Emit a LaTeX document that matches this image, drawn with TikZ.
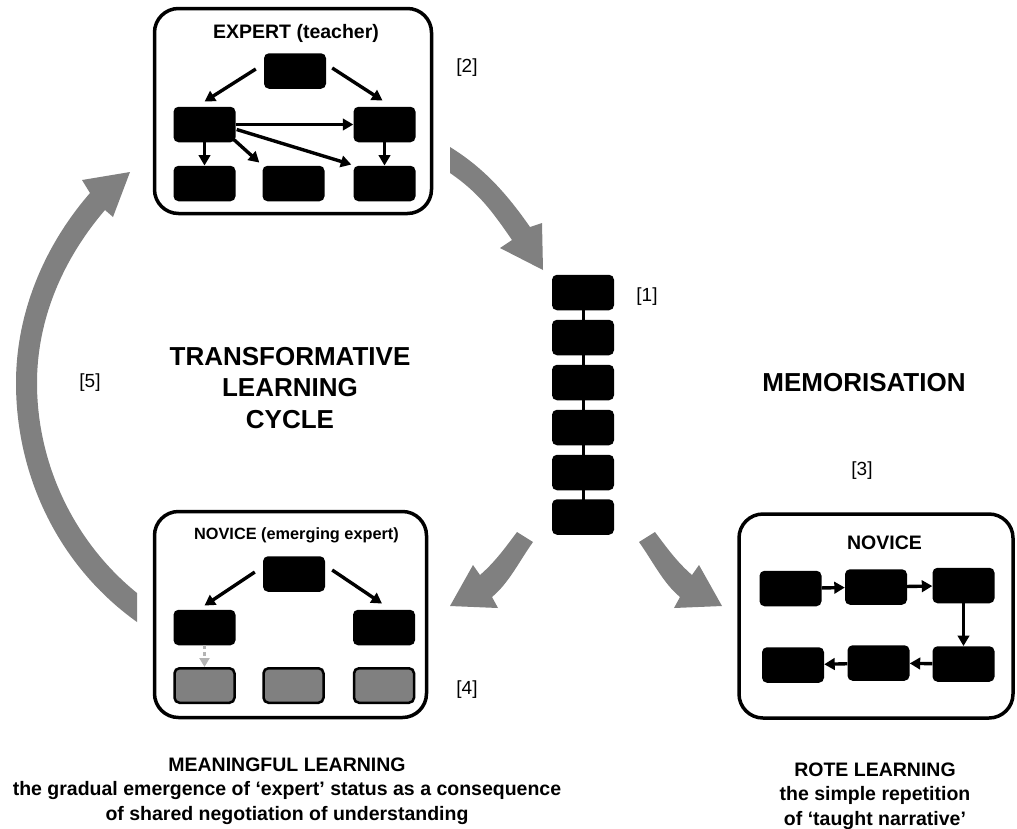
\documentclass[tikz,border=0pt]{standalone}
\usepackage{fontspec}
\setmainfont{Liberation Sans}
\usetikzlibrary{arrows.meta,calc}
\definecolor{bigarrow}{HTML}{808080}
\definecolor{softgray}{HTML}{B4B4B4}
\tikzset{
  bigbox/.style={draw=black, line width=3.5pt, rounded corners=24pt, minimum width=#1, minimum height=205pt, inner sep=0pt},
  sbox/.style={fill=black, rounded corners=5pt, minimum width=62pt, minimum height=35.5pt, inner sep=0pt},
  gbox/.style={fill=bigarrow, draw=black, line width=2.5pt, rounded corners=5pt, minimum width=60pt, minimum height=34.5pt, inner sep=0pt},
  arr/.style={line width=3.4pt, -{Triangle[length=10.5pt,width=11.5pt]}},
  darr/.style={line width=3pt, softgray, dash pattern=on 4pt off 3pt, -{Triangle[length=9pt,width=10pt]}},
  bigarr/.style={fill=bigarrow, draw=none},
  title/.style={font=\bfseries\fontsize{19.5}{23}\selectfont, anchor=base},
  lbl/.style={font=\fontsize{19}{23}\selectfont},
  head/.style={font=\bfseries\fontsize{26}{31.5}\selectfont, align=center},
  caption/.style={font=\bfseries\fontsize{19.5}{24.5}\selectfont, align=center}
}
\begin{document}
\begin{tikzpicture}[x=1pt,y=-1pt]
\useasboundingbox (0,0) rectangle (1017,828);

% big grey cycle arrows
\path[bigarr] (450,147) .. controls (484,168) and (507,194) .. (530,227) -- (542,223) -- (543,270) -- (500,248) -- (512,240) .. controls (492,211) and (479,193) .. (450,173) -- cycle;
\path[bigarr] (517,532) .. controls (505,548) and (495,562) .. (480,575) -- (473,565) -- (450,606) -- (498,608) -- (492,597) .. controls (509,583) and (520,560) .. (533,542) -- cycle;
\path[bigarr] (655,532) .. controls (667,548) and (677,562) .. (692,575) -- (699,565) -- (722,606) -- (674,608) -- (680,597) .. controls (663,583) and (652,560) .. (639,542) -- cycle;
\path[bigarr] (137,622) .. controls (60,567) and (16,478) .. (16,383) .. controls (16,313) and (44,246) .. (90,193) -- (82,180) -- (130,172) -- (113,217) -- (105,210) .. controls (63,259) and (37,319) .. (37,383) .. controls (37,464) and (74,542) .. (137,593) -- cycle;

% EXPERT box
\node[bigbox=277pt] (expert) at (293,111) {};
\node[title] (experttitle) at (296,38) {EXPERT (teacher)};
\node[sbox] (et) at (295,71) {};
\node[sbox] (eml) at (204.5,124.5) {};
\node[sbox] (emr) at (384.5,124.5) {};
\node[sbox] (ebl) at (204.5,183.5) {};
\node[sbox] (ebm) at (293.5,183.5) {};
\node[sbox] (ebr) at (384.5,183.5) {};
\draw[arr] ($(et.west)+(-8,-2)$) -- ($(eml.north)+(0,-5)$);
\draw[arr] ($(et.east)+(6,-3)$) -- ($(emr.north)+(-2,-6)$);
\draw[arr] (eml) -- (emr);
\draw[arr] ($(eml.east)+(1,5)$) -- ($(ebr.north west)+(-2,-1)$);
\draw[arr] ($(eml.south east)+(-2,-3)$) -- ($(ebm.north west)+(-3,-3)$);
\draw[arr] (eml) -- (ebl);
\draw[arr] (emr) -- (ebr);

% chain
\draw[line width=3pt] (583,292.5) coordinate (ctop) -- (583,517) coordinate (cbot);
\node[sbox] (c1) at (583,292.5) {};
\node[sbox] (c2) at (583,337.5) {};
\node[sbox] (c3) at (583,382.5) {};
\node[sbox] (c4) at (583,427.5) {};
\node[sbox] (c5) at (583,472.5) {};
\node[sbox] (c6) at (583,517) {};

% NOVICE (emerging expert) box
\node[bigbox=272pt, minimum height=206pt] (novexp) at (290.5,614.5) {};
\node[title, font=\bfseries\fontsize{16.3}{20}\selectfont] (novexptitle) at (296.5,539) {NOVICE (emerging expert)};
\node[sbox] (nt) at (294,574) {};
\node[sbox] (nml) at (204.5,627.5) {};
\node[sbox] (nmr) at (384,627.5) {};
\node[gbox] (ngl) at (204.5,685.5) {};
\node[gbox] (ngm) at (293.5,685.5) {};
\node[gbox] (ngr) at (384,685.5) {};
\draw[arr] ($(nt.west)+(-8,-2)$) -- ($(nml.north)+(0,-4)$);
\draw[arr] ($(nt.east)+(7,-4)$) -- ($(nmr.north)+(-2,-6)$);
\draw[darr] (nml) -- (ngl);

% NOVICE (rote) box
\node[bigbox=274pt, minimum height=204pt] (novrote) at (876,616) {};
\node[title] (novrotetitle) at (884.5,549) {NOVICE};
\node[sbox] (r1) at (790.5,588.5) {};
\node[sbox] (r2) at (876,587) {};
\node[sbox] (r3) at (963.5,585.5) {};
\node[sbox] (r4) at (963.5,664) {};
\node[sbox] (r5) at (878.5,663) {};
\node[sbox] (r6) at (793,665) {};
\draw[arr] (r1) -- (r2);
\draw[arr] (r2) -- (r3);
\draw[arr] (r3) -- (r4);
\draw[arr] (r4) -- (r5);
\draw[arr] (r5) -- (r6);

% labels
\node[lbl] (l2) at (467,68) {[2]};
\node[lbl] (l1) at (647,297) {[1]};
\node[lbl] (l3) at (862,471) {[3]};
\node[lbl] (l4) at (467,690) {[4]};
\node[lbl] (l5) at (90,383) {[5]};

\node[head] (tlc) at (290,388) {TRANSFORMATIVE\\LEARNING\\CYCLE};
\node[head] (memo) at (864,383) {MEMORISATION};

\node[caption] (mean) at (287,791) {MEANINGFUL LEARNING\\the gradual emergence of ‘expert’ status as a consequence\\of shared negotiation of understanding};
\node[caption] (rote) at (875,796) {ROTE LEARNING\\the simple repetition\\of ‘taught narrative’};
\end{tikzpicture}
\end{document}
